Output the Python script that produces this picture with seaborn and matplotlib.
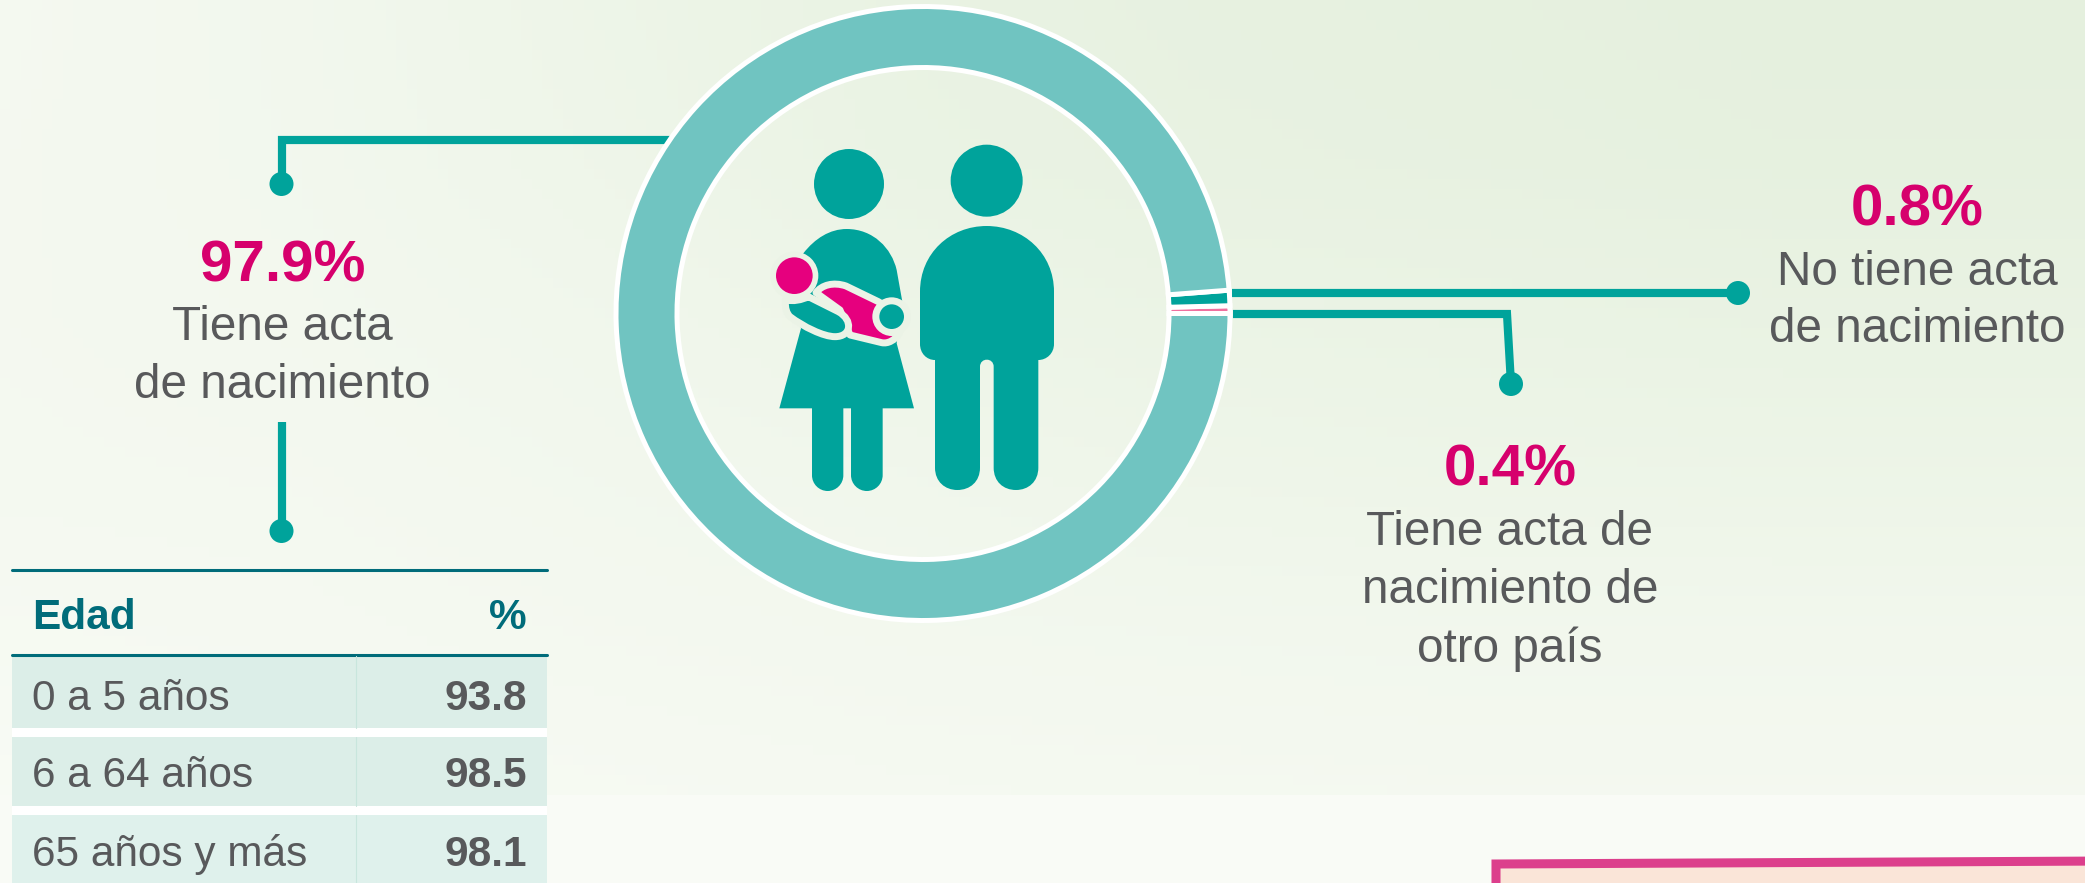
import matplotlib
matplotlib.use("Agg")
import matplotlib.pyplot as plt
from matplotlib.colors import LinearSegmentedColormap
from matplotlib.patches import Circle, PathPatch, Polygon, Rectangle
from matplotlib.path import Path
import numpy as np
import seaborn as sns

# Data
share_labels = ["Tiene acta de nacimiento de otro país", "No tiene acta de nacimiento", "Tiene acta de nacimiento"]
share_values = [0.4, 0.8, 97.9]
age_groups = ["0 a 5 años", "6 a 64 años", "65 años y más"]
age_values = [93.8, 98.5, 98.1]

# Background tint (0 = palest, 1 = greenest)
bg_tint = np.array([
    [.28, .40, .60, .80, .90, .95, 1.0, 1.0],
    [.30, .38, .55, .75, .85, .90, .95, .95],
    [.30, .35, .45, .60, .70, .75, .80, .80],
    [.28, .30, .38, .45, .55, .60, .62, .62],
    [.20, .24, .30, .35, .38, .40, .40, .40],
    [.10, .15, .20, .25, .28, .30, .30, .30],
])

TEAL = "#00a39b"
RING = "#70c4c1"
PINK = "#e6007e"
TEXT_PINK = "#d6006d"
GRAY = "#58595b"
HEAD = "#006c7a"
HALO = "#ebf3e6"

sns.set_theme(style="white")
plt.rcParams["font.family"] = ["Liberation Sans", "DejaVu Sans"]

W, H = 2085, 883
fig = plt.figure(figsize=(W / 100, H / 100), dpi=100, facecolor="#f9fbf6")

# Soft background above the bottom strip
ax_bg = fig.add_axes([0, 1 - 795 / H, 1, 795 / H])
rows = np.linspace(0, bg_tint.shape[0] - 1, 80)
cols = np.linspace(0, bg_tint.shape[1] - 1, 200)
by_col = np.array([np.interp(cols, np.arange(bg_tint.shape[1]), r) for r in bg_tint])
smooth = np.array([np.interp(rows, np.arange(bg_tint.shape[0]), c) for c in by_col.T]).T
bg_cmap = LinearSegmentedColormap.from_list("bg", ["#fafcf7", "#e5f0de"])
sns.heatmap(smooth, ax=ax_bg, cmap=bg_cmap, vmin=0, vmax=1, cbar=False,
            xticklabels=False, yticklabels=False, rasterized=True)

# Main axes work in reference pixels
ax = fig.add_axes([0, 0, 1, 1])
ax.patch.set_visible(False)

ax.pie(share_values, colors=["#f0709f", TEAL, RING], center=(923, 313.5), radius=307,
       startangle=0, counterclock=False, frame=True,
       wedgeprops={"width": 61, "edgecolor": "white", "linewidth": 3.6, "zorder": 3})
ax.set_xlim(0, W)
ax.set_ylim(H, 0)
ax.axis("off")


def connector(xs, ys):
    ax.plot(xs, ys, color=TEAL, lw=5.9, solid_capstyle="butt", solid_joinstyle="miter", zorder=2)


def dot(x, y, r=12):
    ax.add_patch(Circle((x, y), r, color=TEAL, lw=0, zorder=2))


connector([680, 281.5, 281.5], [139.5, 139.5, 184])
dot(281.5, 184)
connector([281.5, 281.5], [422, 531])
dot(281.5, 531)
connector([1232, 1738], [293, 293])
dot(1738, 293)
connector([1233, 1507, 1511], [314, 314, 384])
dot(1511, 384)


def text(x, y, s, size=34.3, color=GRAY, weight="normal", ha="center"):
    ax.text(x, y, s, fontsize=size, color=color, fontweight=weight, ha=ha, va="baseline", zorder=6)


# Callouts
text(282.5, 281, f"{share_values[2]}%", 42, TEXT_PINK, "bold")
text(282.5, 340, "Tiene acta")
text(282.5, 398, "de nacimiento")
text(1917, 225, f"{share_values[1]}%", 42, TEXT_PINK, "bold")
text(1917, 285, "No tiene acta")
text(1917, 342, "de nacimiento")
text(1510, 486, f"{share_values[0]}%", 42, TEXT_PINK, "bold")
text(1510, 545, "Tiene acta de")
text(1510, 603, "nacimiento de")
text(1510, 662, "otro país")

# Age table
ax.plot([12, 547], [570, 570], color=HEAD, lw=2.2, zorder=4)
ax.plot([12, 547], [655, 655], color=HEAD, lw=2.2, zorder=4)
text(32, 629, "Edad", 30.5, HEAD, "bold", "left")
text(527, 629, "%", 30.5, HEAD, "bold", "right")
row_tops = [656, 737, 815]
row_bottoms = [728, 806, 883]
row_base = [710, 787, 866]
row_fill = ["#dceee8", "#dceee8", "#dff1ec"]
for i, (group, val) in enumerate(zip(age_groups, age_values)):
    ax.add_patch(Rectangle((12, row_tops[i]), 535, row_bottoms[i] - row_tops[i],
                           fc=row_fill[i], lw=0, zorder=3))
    ax.plot([356, 356], [row_tops[i], row_bottoms[i]], color="#c8e6dd", lw=0.8, zorder=4)
    text(32, row_base[i], group, 30.5, GRAY, "normal", "left")
    text(527, row_base[i], f"{val}", 30.5, GRAY, "bold", "right")
for top in [728, 806]:
    ax.add_patch(Rectangle((12, top), 535, 9, fc="white", lw=0, zorder=3))

# Pink box cut off at the bottom right
ax.add_patch(Polygon([(1496, 900), (1496, 864), (2110, 861), (2110, 900)], closed=True,
                     fc="#fae5d8", ec="#dc3f8c", lw=6.5, joinstyle="miter", zorder=3))


# Family pictogram, shapes placed in crop units of the icon
def ic(x, y):
    return 740 + x / 3, 120 + y / 3


def shape(cmds, fc, zorder=3, halo=False):
    verts, codes = [], []
    for code, pts in cmds:
        for p in pts:
            verts.append(ic(*p))
            codes.append(code)
    verts.append(verts[0])
    codes.append(Path.CLOSEPOLY)
    ax.add_patch(PathPatch(Path(verts, codes), fc=fc, ec=HALO if halo else "none",
                           lw=5 if halo else 0, joinstyle="round", zorder=zorder))


def circ(x, y, r, fc, zorder=3):
    ax.add_patch(Circle(ic(x, y), r / 3, fc=fc, lw=0, zorder=zorder))


M, L, C = Path.MOVETO, Path.LINETO, Path.CURVE4

# Father
circ(740, 182, 108, TEAL)
shape([(M, [(540, 515)]),
       (C, [(540, 400), (630, 318), (740, 318)]),
       (C, [(850, 318), (942, 400), (942, 515)]),
       (L, [(942, 672)]),
       (C, [(942, 700), (920, 720), (895, 720)]),
       (L, [(895, 1043)]),
       (C, [(895, 1085), (865, 1110), (828, 1110)]),
       (C, [(790, 1110), (761, 1085), (761, 1043)]),
       (L, [(761, 740)]),
       (C, [(761, 712), (720, 712), (720, 740)]),
       (L, [(720, 1043)]),
       (C, [(720, 1085), (690, 1110), (652, 1110)]),
       (C, [(615, 1110), (585, 1085), (585, 1043)]),
       (L, [(585, 720)]),
       (C, [(560, 720), (540, 700), (540, 672)])], TEAL)

# Mother
circ(327, 192, 105, TEAL)
shape([(M, [(118, 865)]),
       (L, [(183, 625), (150, 500), (190, 400)]),
       (C, [(225, 355), (270, 327), (320, 327)]),
       (C, [(400, 327), (455, 385), (470, 450)]),
       (L, [(487, 545), (470, 670), (522, 865)])], TEAL)
for x0, x1 in [(216, 310), (333, 428)]:
    r = (x1 - x0) / 2
    shape([(M, [(x0, 850)]),
           (L, [(x1, 850), (x1, 1113 - r)]),
           (C, [(x1, 1113 - r * 0.45), (x0 + r + r * 0.55, 1113), (x0 + r, 1113)]),
           (C, [(x0 + r - r * 0.55, 1113), (x0, 1113 - r * 0.45), (x0, 1113 - r)])], TEAL)

# Baby
circ(163, 467, 72, HALO, 4)
shape([(M, [(228, 518)]),
       (C, [(245, 495), (280, 485), (318, 498)]),
       (L, [(415, 545), (490, 590), (478, 640)]),
       (C, [(465, 660), (445, 672), (425, 668)]),
       (L, [(330, 645)]),
       (L, [(300, 570)])], PINK, 5, halo=True)
shape([(M, [(136, 540)]),
       (C, [(160, 545), (185, 540), (205, 530)]),
       (L, [(295, 575)]),
       (C, [(340, 600), (335, 650), (285, 650)]),
       (C, [(250, 650), (190, 620), (150, 590)]),
       (C, [(140, 580), (135, 565), (136, 540)])], TEAL, 6, halo=True)
circ(163, 467, 55, PINK, 7)
circ(455, 590, 58, HALO, 6)
circ(455, 590, 37, TEAL, 7)

fig.savefig("out.png", dpi=100, facecolor=fig.get_facecolor())
